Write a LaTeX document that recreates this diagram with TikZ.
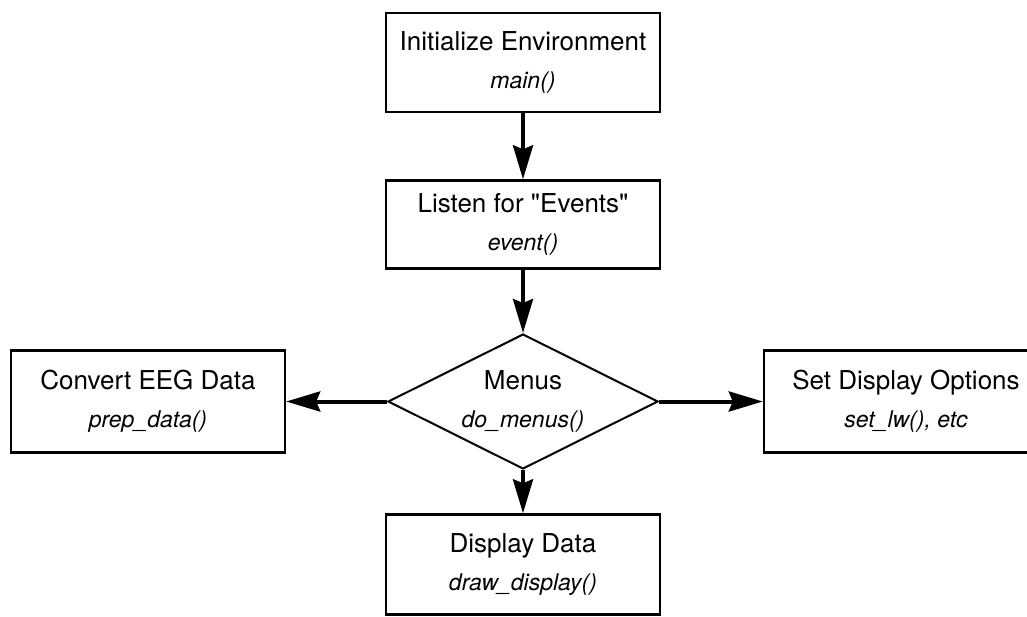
\documentclass[tikz,border=0pt]{standalone}
\usepackage{fontspec}
\setmainfont{TeX Gyre Heros}
\newcommand\bWidth{137pt}
\newcommand\bHeigh{50pt}
\newcommand\callname[1]{{\fontsize{11.5}{19}\selectfont\itshape #1}}
\usetikzlibrary{shapes.geometric, arrows.meta}
\tikzstyle{block} = [rectangle, minimum width=\bWidth, minimum height=\bHeigh, align=center, draw=black, line width=1.2pt, font=\fontsize{13}{19}\selectfont]
\tikzstyle{decision} = [diamond, aspect=2, minimum width=135pt, minimum height=67.5pt, inner sep=0pt, align=center, draw=black, line width=1pt, font=\fontsize{13}{19}\selectfont]
\tikzstyle{arrow} = [line width=2pt, -{Stealth[length=17pt, width=10pt, inset=2pt]}]

\begin{document}
\begin{tikzpicture}[x=0.5pt, y=-0.5pt, node distance=81pt]
\useasboundingbox (0,0) rectangle (1027,616);
\node (init) [block, minimum height=49.5pt] at (523,62.5) {Initialize Environment\\ \callname{main()}};
\node (listen) [block, minimum height=44pt, below of=init] {Listen for \textquotedbl Events\textquotedbl\\ \callname{event()}};
\node (menus) [decision, below of=listen, yshift=-7.5pt] {Menus\\ \callname{do\_menus()}};
\node (convert) [block, minimum height=51pt, left of=menus, xshift=-106.5pt] {Convert EEG Data\\ \callname{prep\_data()}};
\node (setopt) [block, minimum width=142pt, minimum height=51pt, right of=menus, xshift=110.5pt] {Set Display Options\\ \callname{set\_lw(), etc}};
\node (display) [block, below of=menus, yshift=-0.5pt] {Display Data\\ \callname{draw\_display()}};

\draw [arrow] (init) -- (listen);
\draw [arrow] (listen) -- (menus);
\draw [arrow] (menus) -- (convert);
\draw [arrow] (menus) -- (setopt);
\draw [arrow] (menus) -- (display);
\end{tikzpicture}
\end{document}
